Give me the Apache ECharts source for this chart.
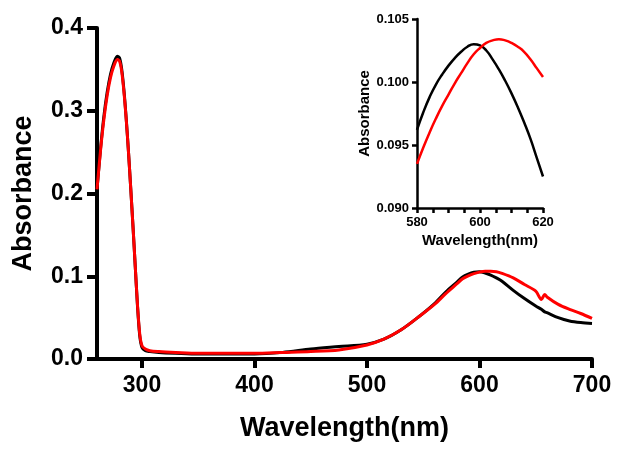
<!DOCTYPE html>
<html>
<head>
<meta charset="utf-8">
<script src="https://cdn.jsdelivr.net/npm/echarts@6/dist/echarts.min.js"></script>
<style>
html,body{margin:0;padding:0;background:#fff;}
#c{width:625px;height:452px;}
</style>
</head>
<body>
<div id="c"></div>
<script>
// Main plot data
var wavelengths = [260,263,266,269,272,275,278,280,282,284,286,288,290,292,294,296,298,300,303,307,315,330,350,375,400,425,450,475,500,515,530,545,560,570,580,585,590,595,600,605,610,615,620,630,640,650,655,658,660,670,680,690,700];
var blackAbs = [0.205,0.252,0.292,0.322,0.344,0.358,0.366,0.364,0.350,0.324,0.290,0.250,0.206,0.160,0.112,0.064,0.028,0.014,0.010,0.009,0.008,0.007,0.006,0.006,0.006,0.008,0.012,0.015,0.018,0.024,0.035,0.050,0.067,0.081,0.093,0.099,0.1025,0.1048,0.1055,0.104,0.1015,0.098,0.094,0.083,0.073,0.064,0.060,0.057,0.056,0.050,0.046,0.044,0.043];
var redAbs = [0.205,0.250,0.288,0.318,0.340,0.354,0.362,0.360,0.347,0.322,0.289,0.250,0.206,0.160,0.112,0.065,0.030,0.016,0.012,0.010,0.009,0.008,0.007,0.007,0.007,0.008,0.009,0.011,0.017,0.024,0.035,0.050,0.066,0.079,0.091,0.097,0.1005,0.1032,0.105,0.106,0.106,0.1055,0.1035,0.098,0.090,0.082,0.072,0.078,0.075,0.066,0.060,0.055,0.049];
var mainXTicks = [300,400,500,600,700];

// Inset data
var insetWl = [580,582,584,586,588,590,592,594,596,598,600,602,604,606,608,610,612,614,616,618,620];
var insetBlack = [0.0962,0.0976,0.0988,0.0998,0.1006,0.1013,0.1019,0.1024,0.1028,0.1030,0.1029,0.1025,0.1018,0.1010,0.1001,0.0991,0.0980,0.0968,0.0955,0.0940,0.0925];
var insetRed = [0.0935,0.0948,0.0960,0.0971,0.0981,0.0990,0.0999,0.1007,0.1015,0.1022,0.1027,0.1031,0.1033,0.1034,0.1033,0.1031,0.1028,0.1024,0.1018,0.1011,0.1004];

function pairs(xs, ys){ return xs.map(function(x,i){ return [x, ys[i]]; }); }

var FF = '"Liberation Sans", Arial, Helvetica, sans-serif';
var chart = echarts.init(document.getElementById('c'), null, {renderer:'canvas'});
chart.setOption({
  animation:false,
  backgroundColor:'#fff',
  grid:[
    {left:97, right:33, top:28, bottom:93, containLabel:false},
    {left:417, right:82, top:19, bottom:244, containLabel:false}
  ],
  xAxis:[
    {gridIndex:0, type:'value', min:260, max:700,
     name:'Wavelength(nm)', nameLocation:'middle', nameGap:56,
     nameTextStyle:{fontFamily:FF, fontWeight:'bold', fontSize:27, color:'#000'},
     axisLine:{onZero:false, lineStyle:{color:'#000', width:4}},
     axisTick:{show:true, customValues:mainXTicks, length:9, lineStyle:{color:'#000', width:4}},
     axisLabel:{customValues:mainXTicks, margin:15, fontFamily:FF, fontWeight:'bold', fontSize:23, color:'#000'},
     splitLine:{show:false}},
    {gridIndex:1, type:'value', min:580, max:620, interval:20,
     name:'Wavelength(nm)', nameLocation:'middle', nameGap:25,
     nameTextStyle:{fontFamily:FF, fontWeight:'bold', fontSize:15, color:'#000'},
     axisLine:{onZero:false, lineStyle:{color:'#000', width:2.5}},
     axisTick:{length:5, lineStyle:{color:'#000', width:2.5}},
     minorTick:{show:true, splitNumber:4, length:5, lineStyle:{color:'#000', width:2.5}},
     axisLabel:{margin:8, fontFamily:FF, fontWeight:'bold', fontSize:13, color:'#000'},
     splitLine:{show:false}}
  ],
  yAxis:[
    {gridIndex:0, type:'value', min:0, max:0.4, interval:0.1,
     name:'Absorbance', nameLocation:'middle', nameGap:60,
     nameTextStyle:{fontFamily:FF, fontWeight:'bold', fontSize:27, color:'#000'},
     axisLine:{show:true, onZero:false, lineStyle:{color:'#000', width:4}},
     axisTick:{show:true, length:10, lineStyle:{color:'#000', width:4}},
     axisLabel:{margin:14, fontFamily:FF, fontWeight:'bold', fontSize:23, color:'#000',
       formatter:function(v){return v.toFixed(1);}},
     splitLine:{show:false}},
    {gridIndex:1, type:'value', min:0.09, max:0.105, interval:0.005,
     name:'Absorbance', nameLocation:'middle', nameGap:45,
     nameTextStyle:{fontFamily:FF, fontWeight:'bold', fontSize:15, color:'#000'},
     axisLine:{show:true, onZero:false, lineStyle:{color:'#000', width:2.5}},
     axisTick:{show:true, length:5, lineStyle:{color:'#000', width:2.5}},
     axisLabel:{margin:8, fontFamily:FF, fontWeight:'bold', fontSize:13, color:'#000',
       formatter:function(v){return v.toFixed(3);}},
     splitLine:{show:false}}
  ],
  series:[
    {type:'line', xAxisIndex:0, yAxisIndex:0, data:pairs(wavelengths, blackAbs), showSymbol:false, smooth:0.3,
     lineStyle:{color:'#000', width:3}, z:2},
    {type:'line', xAxisIndex:0, yAxisIndex:0, data:pairs(wavelengths, redAbs), showSymbol:false, smooth:0.3,
     lineStyle:{color:'#ff0000', width:3}, z:3},
    {type:'line', xAxisIndex:1, yAxisIndex:1, data:pairs(insetWl, insetBlack), showSymbol:false, smooth:true,
     lineStyle:{color:'#000', width:2.5}, z:2},
    {type:'line', xAxisIndex:1, yAxisIndex:1, data:pairs(insetWl, insetRed), showSymbol:false, smooth:true,
     lineStyle:{color:'#ff0000', width:2.5}, z:3}
  ]
});
</script>
</body>
</html>
